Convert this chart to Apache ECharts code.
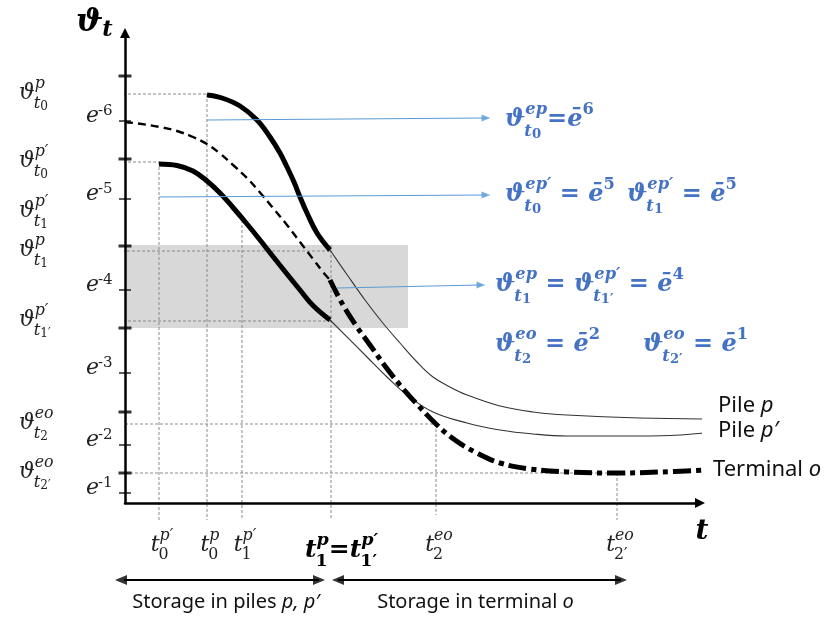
<!DOCTYPE html>
<html>
<head>
<meta charset="utf-8">
<script src="https://cdn.jsdelivr.net/npm/echarts@6/dist/echarts.min.js"></script>
<style>
html,body{margin:0;padding:0;background:#fff;}
#chart{width:828px;height:618px;}
</style>
</head>
<body>
<div id="chart"></div>
<script>
// ---------------- Data (x: time, y: ϑ; arbitrary units) ----------------
const pilePStorageX = [8.2, 9.7, 11.5, 13.2, 14.5, 15.5, 16.2, 16.9, 17.5, 18.2, 19.2, 20.5];
const pilePStorageY = [40.8, 40.5, 39.7, 38.3, 36.6, 35.0, 33.6, 32.1, 30.6, 29.0, 27.0, 25.3];
const pilePTerminalX = [20.5, 22.3, 24.0, 25.7, 27.5, 29.2, 30.8, 32.5, 34.2, 37.5, 40.8, 44.2, 51.5, 58.8];
const pilePTerminalY = [25.3, 22.7, 20.3, 18.1, 16.0, 14.1, 12.6, 11.6, 10.8, 9.7, 9.1, 8.8, 8.5, 8.4];
const pileP2StorageX = [3.4, 5.2, 6.8, 8.2, 9.5, 10.8, 12.2, 13.5, 14.8, 16.2, 17.5, 18.8, 20.5];
const pileP2StorageY = [33.9, 33.75, 33.2, 32.2, 31.0, 29.55, 27.9, 26.3, 24.65, 22.9, 21.3, 19.75, 18.3];
const pileP2TerminalX = [20.5, 24.2, 26.2, 28.2, 30.8, 34.2, 37.5, 40.8, 44.2, 51.5, 55.5, 58.8];
const pileP2TerminalY = [18.3, 14.6, 12.6, 10.8, 9.1, 8.0, 7.3, 6.9, 6.7, 6.7, 6.8, 7.1];
const terminalEarlyX = [0, 1.5, 3.5, 5.2, 6.8, 8.2, 9.5, 10.8, 12.2, 13.5, 14.8, 16.2, 17.5, 18.8, 19.8, 20.5];
const terminalEarlyY = [38.1, 37.92, 37.6, 37.2, 36.6, 35.9, 34.95, 33.8, 32.5, 31.05, 29.5, 27.8, 26.1, 24.4, 23.1, 22.3];
const terminalLateX = [20.5, 21.8, 23.2, 24.5, 26.0, 27.5, 29.0, 31.1, 33.0, 35.0, 37.5, 40.5, 44.2, 49.2, 53.5, 58.2];
const terminalLateY = [22.3, 19.8, 17.6, 15.8, 13.7, 11.8, 10.1, 7.9, 6.3, 5.1, 4.0, 3.4, 3.1, 3.0, 3.1, 3.3];

// ϑ levels with horizontal guides
const levelValues = [40.9, 34.1, 25.2, 18.2, 7.9, 3.0];
const levelGuideStart = [-6.7, -7.2, -6.3, -6.2, -7.0, -6.5];
const levelGuideEnd = [8.2, 3.4, 20.6, 20.6, 31.1, 49.2];
// time instants with vertical guides
const timeValues = [3.4, 8.2, 11.7, 20.6, 31.1, 49.2];
const timeGuideTop = [34.1, 40.9, 28.3, 25.8, 7.9, 3.0];
const timeGuideBottom = [-1.7, -1.7, -1.5, -1.5, -1.2, -1.7];

// shaded band
const bandX = [0, 28.3];
const bandY = [17.5, 25.8];

// y-axis ticks
const majorTicks = [42.7, 34.4, 25.7, 17.5, 9.1, 3.0];
const minorTicks = [38.2, 30.4, 21.3, 13.0, 5.8, 1.0];
const minorTickExp = ['-6', '-5', '-4', '-3', '-2', '-1'];

// left ϑ labels
const levelLabelY = [40.9, 34.1, 29.1, 25.2, 18.2, 7.9, 3.0];
const levelLabelSup = ['p', 'p′', 'p′', 'p', 'p′', 'eo', 'eo'];
const levelLabelSubIdx = ['0', '0', '1', '1', '1′', '2', '2′'];

// time tick labels
const timeLabelSup = ['p′', 'p', 'p′', null, 'eo', 'eo'];
const timeLabelSub = ['0', '0', '1', null, '2', '2′'];

// blue arrows
const arrowFromX = [8.2, 3.4, 21.2];
const arrowFromY = [38.3, 30.6, 21.5];
const arrowToX = [36.1, 36.1, 35.6];
const arrowToY = [38.5, 30.8, 21.8];

// bottom period arrows
const periodFromX = [-0.4, 21.3];
const periodToX = [19.4, 49.6];
const periodY = -7.7;
const periodLabels = ['Storage in piles ', 'Storage in terminal '];
const periodLabelsIt = ['p, p′', 'o'];

// series end labels
const seriesNames = ['Pile ', 'Pile ', 'Terminal '];
const seriesNamesIt = ['p', 'p′', 'o'];

// ---------------- Chart ----------------
const chart = echarts.init(document.getElementById('chart'), null, {renderer: 'canvas'});
const zip = (xs, ys) => xs.map((x, i) => [x, ys[i]]);
const AXIS_MAX_X = 57.5, AXIS_MAX_Y = 47.0;

function lineS(data, lineStyle, z, smooth) {
  return {type: 'line', data: data, symbol: 'none', smooth: smooth || false,
    clip: false, silent: true, z: z, lineStyle: lineStyle, animation: false};
}
const guideStyle = {color: '#8a8a8a', width: 1, type: [3, 2]};
const series = [];

series.push({
  type: 'custom', z: 1, silent: true, clip: false,
  data: [[bandX[0], bandY[1], bandX[1], bandY[0]]],
  renderItem: function (params, api) {
    const p0 = api.coord([api.value(0), api.value(1)]);
    const p1 = api.coord([api.value(2), api.value(3)]);
    return {type: 'rect', shape: {x: p0[0], y: p0[1], width: p1[0] - p0[0], height: p1[1] - p0[1]},
      style: {fill: '#d8d8d8'}};
  }
});
levelValues.forEach((v, i) => series.push(lineS([[levelGuideStart[i], v], [levelGuideEnd[i], v]], guideStyle, 2)));
timeValues.forEach((v, i) => series.push(lineS([[v, timeGuideTop[i]], [v, timeGuideBottom[i]]], guideStyle, 2)));

const SM = 0.4;
series.push(lineS(zip(pilePTerminalX, pilePTerminalY), {color: '#333', width: 1.1}, 3, SM));
series.push(lineS(zip(pileP2TerminalX, pileP2TerminalY), {color: '#333', width: 1.1}, 3, SM));
series.push(lineS(zip(terminalEarlyX, terminalEarlyY), {color: '#000', width: 2.4, type: [8, 5]}, 4, SM));
series.push(lineS(zip(terminalLateX, terminalLateY), {color: '#000', width: 5, type: [18, 5, 5, 5]}, 4, SM));
series.push(lineS(zip(pilePStorageX, pilePStorageY), {color: '#000', width: 5, cap: 'butt'}, 5, SM));
series.push(lineS(zip(pileP2StorageX, pileP2StorageY), {color: '#000', width: 5, cap: 'butt'}, 5, SM));

// blue arrows
arrowFromX.forEach((x, i) => series.push(lineS([[x, arrowFromY[i]], [arrowToX[i], arrowToY[i]]], {color: '#5b9bd5', width: 1.2}, 6)));
series.push({type: 'scatter', z: 6, silent: true, clip: false, symbol: 'triangle', symbolSize: [7, 9],
  itemStyle: {color: '#5b9bd5'},
  data: arrowToX.map((x, i) => ({value: [x, arrowToY[i]], symbolRotate: -90}))});

// period arrows
periodFromX.forEach((x, i) => series.push(lineS([[x, periodY], [periodToX[i], periodY]], {color: '#000', width: 2}, 6)));
const periodHeads = [];
periodFromX.forEach((x, i) => {
  periodHeads.push({value: [x, periodY], symbolRotate: 90});
  periodHeads.push({value: [periodToX[i], periodY], symbolRotate: -90});
});
series.push({type: 'scatter', z: 6, silent: true, clip: false, symbol: 'triangle', symbolSize: [10, 12],
  itemStyle: {color: '#000'}, data: periodHeads});

// y-axis ticks
series.push({type: 'scatter', z: 11, silent: true, clip: false, symbol: 'rect', symbolSize: [13, 3],
  itemStyle: {color: '#000'}, data: majorTicks.map(v => [0, v])});
series.push({type: 'scatter', z: 11, silent: true, clip: false, symbol: 'rect', symbolSize: [12, 1.6],
  itemStyle: {color: '#000'}, data: minorTicks.map(v => [0, v])});

const axisCommon = {
  type: 'value', z: 10,
  axisLine: {show: true, onZero: false, symbol: ['none', 'triangle'], symbolSize: [10, 10],
    lineStyle: {color: '#000', width: 2.5}},
  axisTick: {show: false}, axisLabel: {show: false}, splitLine: {show: false}
};
chart.setOption({
  animation: false,
  grid: {left: 125, right: 128, top: 33, bottom: 115},
  xAxis: Object.assign({}, axisCommon, {min: 0, max: AXIS_MAX_X}),
  yAxis: Object.assign({}, axisCommon, {min: 0, max: AXIS_MAX_Y}),
  series: series
});

// ---------------- Math-style text ----------------
const SERIF = '"DejaVu Serif", serif';
const SANS = '"Noto Sans", "Open Sans", sans-serif';
const mctx = document.createElement('canvas').getContext('2d');
function font(size, it, bold, fam) { return (it ? 'italic ' : '') + (bold ? 'bold ' : '') + size.toFixed(1) + 'px ' + fam; }
function measure(t, f) { mctx.font = f; return mctx.measureText(t).width; }
function isItalic(s) { return /^[A-Za-zϑē]/.test(s); }
function textEl(t, x, y, f, color) {
  return {type: 'text', x: x, y: y, silent: true,
    style: {text: t, font: f, fill: color, align: 'left', verticalAlign: 'middle', textAlign: 'left', textVerticalAlign: 'middle'}};
}
function mathGroup(pieces, o, gx, gy, anchor) {
  const S = o.size, fam = o.family || SERIF, ch = [];
  let x = 0;
  const put = (t, px, py, size, it) => {
    const f = font(size, it, o.bold, fam);
    ch.push(textEl(t, px, py, f, o.color));
    return measure(t, f);
  };
  pieces.forEach(p => {
    const it = p.it !== undefined ? p.it : isItalic(p.b);
    x += put(p.b, x, 0, S * (p.k || 1), it);
    let ws = 0, wb = 0;
    if (p.sup) ws = (o.supDx || 0) + put(p.sup, x + (o.supDx || 0), S * o.supDy, S * o.supK, isItalic(p.sup));
    if (p.sub) {
      const sx = x + (o.subDx || 0);
      let w = put(p.sub, sx, S * o.subDy, S * o.subK, isItalic(p.sub));
      if (p.ss) w += put(p.ss, sx + w, S * o.ssDy, S * o.ssK, isItalic(p.ss));
      wb = (o.subDx || 0) + w;
    }
    x += Math.max(ws, wb);
  });
  let ox = gx;
  if (anchor === 'center') ox = gx - x / 2;
  return {type: 'group', x: ox, y: gy, children: ch, silent: true};
}
const pt = (x, y) => chart.convertToPixel({gridIndex: 0}, [x, y]);
const g = [];

const eOpt = {size: 22, color: '#222', supK: 0.68, supDy: -0.22, supDx: -1};
minorTicks.forEach((v, i) => {
  const p = pt(0, v);
  g.push(mathGroup([{b: 'e', sup: minorTickExp[i]}], eOpt, p[0] - 39, p[1] - 5));
});

const lvlOpt = {size: 22, color: '#222', supK: 0.72, supDy: -0.41, subK: 0.75, subDy: 0.5, subDx: -1, ssK: 0.55, ssDy: 0.62};
levelLabelY.forEach((v, i) => {
  const p = pt(0, v);
  g.push(mathGroup([{b: 'ϑ', sup: levelLabelSup[i], sub: 't', ss: levelLabelSubIdx[i]}], lvlOpt, p[0] - 106, p[1] - 1));
});

const tOpt = {size: 22, color: '#222', supK: 0.72, supDy: -0.41, subK: 0.72, subDy: 0.45, subDx: -1};
timeValues.forEach((v, i) => {
  if (!timeLabelSup[i]) return;
  const p = pt(v, 0);
  g.push(mathGroup([{b: 't', sup: timeLabelSup[i], sub: timeLabelSub[i]}], tOpt, p[0] + 3, p[1] + 42, 'center'));
});
(function () {
  const p = pt(timeValues[3], 0);
  const bOpt = {size: 25, color: '#000', bold: true, supK: 0.7, supDy: -0.38, subK: 0.7, subDy: 0.45, subDx: -1};
  g.push(mathGroup([{b: 't', sup: 'p', sub: '1'}, {b: '='}, {b: 't', sup: 'p′', sub: '1′'}], bOpt, p[0] - 26, p[1] + 47));
})();

// axis titles
(function () {
  const top = pt(0, AXIS_MAX_Y);
  g.push(mathGroup([{b: 'ϑ', sub: 't'}], {size: 32, color: '#000', bold: true, subK: 0.7, subDy: 0.22, subDx: -1}, top[0] - 49, top[1] - 10));
  const right = pt(AXIS_MAX_X, 0);
  g.push(mathGroup([{b: 't'}], {size: 28, color: '#000', bold: true}, right[0] + 2, right[1] + 29, 'center'));
})();

// blue equations
const blue = {size: 24, color: '#4472c4', bold: true, supK: 0.68, supDy: -0.42, subK: 0.68, subDy: 0.5, subDx: -1, ssK: 0.55, ssDy: 0.6};
(function () {
  const a1 = pt(arrowToX[0], arrowToY[0]);
  const a2 = pt(arrowToX[1], arrowToY[1]);
  const a3 = pt(arrowToX[2], arrowToY[2]);
  g.push(mathGroup([{b: 'ϑ', sup: 'ep', sub: 't', ss: '0'}, {b: '='}, {b: 'ē', sup: '6'}], blue, a1[0] + 19, a1[1] + 2));
  g.push(mathGroup([{b: 'ϑ', sup: 'ep′', sub: 't', ss: '0'}, {b: ' = '}, {b: 'ē', sup: '5'}], blue, a2[0] + 19, a2[1]));
  g.push(mathGroup([{b: 'ϑ', sup: 'ep′', sub: 't', ss: '1'}, {b: ' = '}, {b: 'ē', sup: '5'}], blue, a2[0] + 141, a2[1]));
  g.push(mathGroup([{b: 'ϑ', sup: 'ep', sub: 't', ss: '1'}, {b: ' = '}, {b: 'ϑ', sup: 'ep′', sub: 't', ss: '1′'}, {b: ' = '}, {b: 'ē', sup: '4'}], blue, a3[0] + 14, a3[1]));
  g.push(mathGroup([{b: 'ϑ', sup: 'eo', sub: 't', ss: '2'}, {b: ' = '}, {b: 'ē', sup: '2'}], blue, a3[0] + 14, a3[1] + 60));
  g.push(mathGroup([{b: 'ϑ', sup: 'eo', sub: 't', ss: '2′'}, {b: ' = '}, {b: 'ē', sup: '1'}], blue, a3[0] + 162, a3[1] + 60));
})();

// series end labels and period labels
(function () {
  const ends = [
    pt(pilePTerminalX[pilePTerminalX.length - 1], pilePTerminalY[pilePTerminalY.length - 1]),
    pt(pileP2TerminalX[pileP2TerminalX.length - 1], pileP2TerminalY[pileP2TerminalY.length - 1]),
    pt(terminalLateX[terminalLateX.length - 1], terminalLateY[terminalLateY.length - 1])
  ];
  const dy = [-13, -1, 0], dx = [5, 5, 6];
  const sOpt = {size: 22, color: '#111', family: SANS};
  ends.forEach((p, i) => g.push(mathGroup([{b: seriesNames[i], it: false}, {b: seriesNamesIt[i], it: true}], sOpt, p[0] + dx[i], p[1] + dy[i])));
  const pOpt = {size: 20, color: '#111', family: SANS};
  periodFromX.forEach((x, i) => {
    const p = pt((x + periodToX[i]) / 2, periodY);
    g.push(mathGroup([{b: periodLabels[i], it: false}, {b: periodLabelsIt[i], it: true}], pOpt, p[0] + (i === 0 ? 6 : -4), p[1] + 22, 'center'));
  });
})();

chart.setOption({graphic: g});
</script>
</body>
</html>
